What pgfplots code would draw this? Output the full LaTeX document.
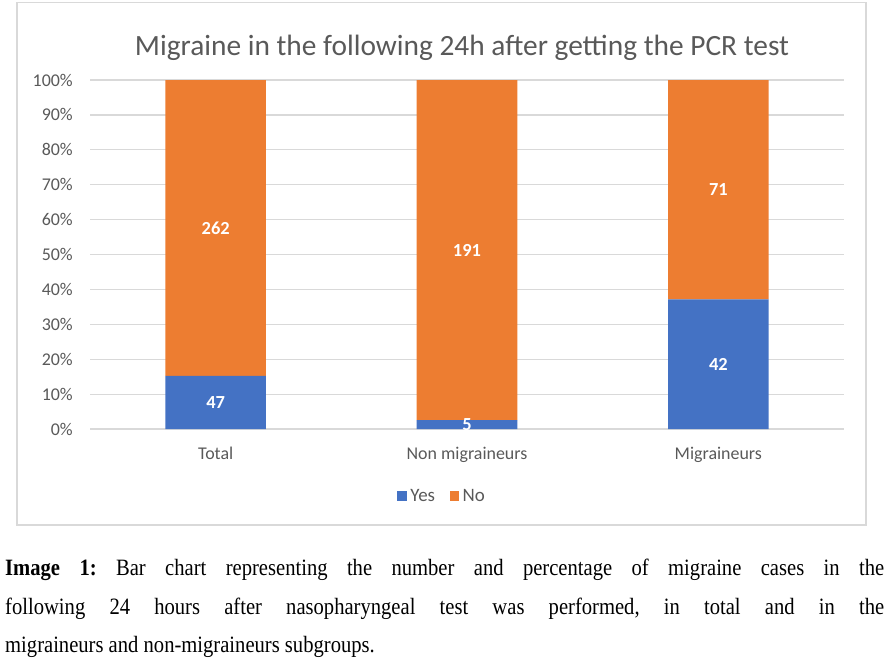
\documentclass[border=0pt]{standalone}
\usepackage{pgfplots}
\pgfplotsset{compat=1.18}
\usepackage{pgfplotstable}
\usepackage{fontspec}
\setmainfont{Carlito}
\newfontfamily\capfont[FakeStretch=0.88]{Liberation Serif}
\definecolor{xblue}{HTML}{4472C4}
\definecolor{xorange}{HTML}{ED7D31}
\definecolor{xtext}{HTML}{595959}
\definecolor{xgrid}{HTML}{D9D9D9}

\pgfplotstableread{
x yes no
0 15.21 84.79
1 2.55 97.45
2 37.17 62.83
}\bars

\pgfplotstableread{
x ymid count
0 7.6 47
0 57.6 262
1 1.3 5
1 51.3 191
2 18.6 42
2 68.6 71
}\labels

\begin{document}
\frenchspacing
\begin{tikzpicture}
\path[use as bounding box] (0bp,0bp) rectangle (886bp,-668bp);
\draw[xgrid, line width=1.2bp] (17bp,-2.5bp) rectangle (866bp,-525bp);
\node[text=xtext, font=\fontsize{29.5}{34}\selectfont] at (462bp,-48bp) {Migraine in the following 24h after getting the PCR test};

\begin{axis}[
  at={(90bp,-429bp)}, anchor=south west,
  scale only axis, width=754bp, height=349bp,
  xmin=-0.5, xmax=2.5, ymin=0, ymax=100,
  ybar stacked, bar width=0.4,
  axis line style={draw=none},
  ymajorgrids, grid style={xgrid, line width=1.2bp},
  xtick={0,1,2}, xticklabels={Total,Non migraineurs,Migraineurs},
  ytick={0,10,...,100},
  yticklabels={0\%,10\%,20\%,30\%,40\%,50\%,60\%,70\%,80\%,90\%,100\%},
  major tick length=0pt,
  ticklabel style={font=\fontsize{18}{20}\selectfont, text=xtext},
  xticklabel style={anchor=base, yshift=-30bp},
  yticklabel style={anchor=base east, inner xsep=0pt, xshift=-17bp, yshift=-6bp},
  legend style={at={(0.468,-0.192)}, anchor=center, draw=none, fill=none,
    legend columns=-1, font=\fontsize{19}{21}\selectfont, text=xtext,
    /tikz/every even column/.append style={column sep=11bp},
    nodes={inner xsep=3.5bp}},
  legend image code/.code={\fill[#1] (0bp,-4.8bp) rectangle (9.5bp,4.8bp);},
]
\addplot[fill=xblue, draw=none] table[x=x, y=yes] {\bars};
\addlegendentry{Yes}
\addplot[fill=xorange, draw=none] table[x=x, y=no] {\bars};
\addlegendentry{No}
\end{axis}

\begin{axis}[
  at={(90bp,-429bp)}, anchor=south west,
  scale only axis, width=754bp, height=349bp,
  xmin=-0.5, xmax=2.5, ymin=0, ymax=100,
  hide axis,
]
\addplot[draw=none, mark=none, nodes near coords, point meta=explicit symbolic,
  nodes near coords style={anchor=center, text=white, font=\fontsize{18.5}{20}\selectfont\bfseries}]
  table[x=x, y=ymid, meta=count] {\labels};
\end{axis}

\node[anchor=north west, text width=879bp, align=justify, inner sep=0pt,
  font=\capfont\fontsize{23.5}{38.5}\selectfont] at (5bp,-559bp)
  {\textbf{Image 1:} Bar chart representing the number and percentage of migraine cases in the\linebreak
   following 24 hours after nasopharyngeal test was performed, in total and in the\linebreak
   migraineurs and non-migraineurs subgroups.};
\end{tikzpicture}
\end{document}
